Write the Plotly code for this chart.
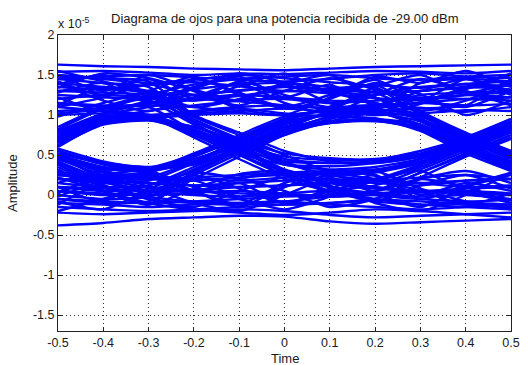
import plotly.graph_objects as go

# Sample instants of each eye trace (two symbol periods shown)
time = [-0.5, -0.4, -0.3, -0.2, -0.1, 0.0, 0.1, 0.2, 0.3, 0.4, 0.5]

# Amplitude of each trace in units of 1e-5
traces = [
    # 1 1 1 1
    [1.45, 1.48, 1.50, 1.47, 1.44, 1.42, 1.45, 1.50, 1.52, 1.48, 1.46],
    [1.20, 1.25, 1.22, 1.18, 1.24, 1.30, 1.27, 1.21, 1.19, 1.25, 1.28],
    [1.05, 1.08, 1.12, 1.10, 1.03, 1.00, 1.06, 1.12, 1.09, 1.04, 1.10],
    [1.35, 1.32, 1.38, 1.41, 1.36, 1.30, 1.33, 1.37, 1.34, 1.39, 1.42],
    [1.63, 1.61, 1.60, 1.58, 1.57, 1.56, 1.58, 1.60, 1.61, 1.62, 1.63],
    [1.54, 1.55, 1.53, 1.50, 1.52, 1.51, 1.53, 1.55, 1.54, 1.52, 1.55],
    [1.28, 1.40, 1.15, 1.33, 1.48, 1.22, 1.38, 1.12, 1.30, 1.45, 1.25],
    [1.50, 1.30, 1.45, 1.20, 1.36, 1.52, 1.28, 1.44, 1.18, 1.35, 1.50],
    [1.10, 1.22, 1.38, 1.25, 1.12, 1.30, 1.46, 1.32, 1.20, 1.10, 1.30],
    [1.40, 1.18, 1.05, 1.22, 1.40, 1.15, 1.02, 1.25, 1.45, 1.30, 1.12],
    [0.98, 1.15, 1.30, 1.48, 1.25, 1.08, 1.20, 1.40, 1.26, 1.00, 1.18],
    [1.55, 1.42, 1.28, 1.10, 1.20, 1.38, 1.50, 1.22, 1.05, 1.18, 1.40],
    [1.22, 1.05, 1.18, 1.35, 1.52, 1.40, 1.15, 1.00, 1.14, 1.32, 1.52],
    [1.34, 1.52, 1.46, 1.30, 1.08, 1.00, 1.22, 1.48, 1.40, 1.55, 1.35],
    # 1 1 1 0
    [1.30, 1.34, 1.28, 1.25, 1.31, 1.36, 1.30, 1.22, 0.92, 0.65, 0.42],
    [1.15, 1.10, 1.14, 1.20, 1.17, 1.12, 1.08, 1.05, 0.85, 0.58, 0.35],
    [1.48, 1.45, 1.40, 1.44, 1.50, 1.46, 1.41, 1.35, 1.00, 0.72, 0.50],
    [1.02, 1.06, 1.00, 1.04, 1.08, 1.02, 0.98, 0.96, 0.80, 0.52, 0.30],
    [1.42, 1.25, 1.50, 1.32, 1.18, 1.40, 1.28, 1.15, 0.95, 0.70, 0.48],
    [1.12, 1.35, 1.20, 1.45, 1.28, 1.10, 1.25, 1.38, 1.05, 0.78, 0.55],
    # 1 1 0 1
    [1.25, 1.22, 1.18, 0.88, 0.62, 0.38, 0.32, 0.35, 0.45, 0.62, 0.85],
    [1.40, 1.35, 1.30, 0.95, 0.70, 0.45, 0.40, 0.42, 0.50, 0.68, 0.92],
    [1.10, 1.05, 1.00, 0.75, 0.50, 0.30, 0.25, 0.28, 0.40, 0.58, 0.80],
    [1.50, 1.46, 1.42, 1.00, 0.78, 0.55, 0.42, 0.40, 0.48, 0.70, 0.95],
    # 1 1 0 0
    [1.30, 1.28, 1.24, 0.90, 0.60, 0.32, 0.18, 0.10, 0.05, 0.02, 0.00],
    [1.15, 1.12, 1.10, 0.80, 0.52, 0.25, 0.10, 0.00, -0.05, -0.08, -0.06],
    [1.45, 1.40, 1.35, 0.98, 0.75, 0.50, 0.30, 0.20, 0.15, 0.10, 0.12],
    [1.00, 1.02, 0.98, 0.72, 0.45, 0.20, 0.05, -0.05, -0.12, -0.15, -0.18],
    [1.38, 1.50, 1.26, 0.92, 0.68, 0.42, 0.22, 0.05, 0.20, 0.10, -0.10],
    # 1 0 1 1
    [0.55, 0.40, 0.31, 0.45, 0.65, 0.88, 1.02, 1.10, 1.15, 1.12, 1.14],
    [0.50, 0.35, 0.30, 0.40, 0.58, 0.80, 0.98, 1.08, 1.20, 1.25, 1.22],
    [0.45, 0.32, 0.34, 0.50, 0.72, 0.95, 1.10, 1.25, 1.30, 1.35, 1.32],
    [0.58, 0.42, 0.33, 0.38, 0.55, 0.75, 0.92, 1.05, 1.40, 1.45, 1.42],
    # 1 0 1 0
    [0.55, 0.38, 0.30, 0.42, 0.62, 0.85, 0.92, 0.95, 0.88, 0.62, 0.40],
    [0.48, 0.34, 0.32, 0.48, 0.70, 0.92, 1.00, 1.02, 0.92, 0.68, 0.45],
    [0.52, 0.40, 0.35, 0.40, 0.58, 0.80, 0.90, 0.93, 0.82, 0.55, 0.35],
    [0.45, 0.33, 0.31, 0.52, 0.75, 0.98, 1.05, 1.08, 0.98, 0.75, 0.52],
    # 1 0 0 1
    [0.45, 0.25, 0.15, 0.12, 0.10, 0.12, 0.15, 0.20, 0.38, 0.60, 0.82],
    [0.40, 0.18, 0.05, 0.00, -0.02, 0.02, 0.06, 0.12, 0.32, 0.55, 0.78],
    [0.50, 0.30, 0.22, 0.20, 0.18, 0.22, 0.28, 0.30, 0.45, 0.65, 0.90],
    [0.35, 0.10, -0.05, -0.10, -0.12, -0.08, -0.02, 0.05, 0.28, 0.50, 0.72],
    [0.42, 0.15, 0.25, 0.05, 0.20, 0.28, 0.02, 0.18, 0.35, 0.58, 0.80],
    # 1 0 0 0
    [0.42, 0.20, 0.10, 0.05, 0.02, 0.00, -0.02, 0.02, 0.05, 0.03, 0.00],
    [0.38, 0.12, -0.02, -0.08, -0.10, -0.12, -0.10, -0.06, -0.08, -0.12, -0.15],
    [0.48, 0.28, 0.20, 0.18, 0.22, 0.25, 0.20, 0.18, 0.22, 0.25, 0.20],
    [0.32, 0.05, -0.10, -0.18, -0.22, -0.25, -0.22, -0.18, -0.20, -0.24, -0.28],
    [0.50, 0.22, 0.28, 0.02, 0.15, -0.10, 0.08, 0.25, -0.05, 0.12, 0.28],
    # 0 1 1 1
    [0.72, 0.95, 1.05, 1.12, 1.18, 1.20, 1.15, 1.18, 1.22, 1.20, 1.18],
    [0.80, 1.02, 1.15, 1.25, 1.30, 1.35, 1.32, 1.28, 1.30, 1.34, 1.38],
    [0.65, 0.92, 1.00, 1.02, 1.05, 1.08, 1.04, 1.00, 1.02, 1.06, 1.05],
    [0.85, 1.10, 1.25, 1.38, 1.45, 1.48, 1.50, 1.46, 1.44, 1.48, 1.50],
    [0.75, 1.00, 1.30, 1.18, 1.42, 1.25, 1.10, 1.35, 1.50, 1.28, 1.40],
    # 0 1 1 0
    [0.70, 0.93, 0.98, 1.05, 1.10, 1.12, 1.08, 1.04, 0.88, 0.60, 0.38],
    [0.78, 1.00, 1.10, 1.20, 1.25, 1.22, 1.18, 1.15, 0.95, 0.68, 0.45],
    [0.62, 0.90, 0.96, 1.00, 1.02, 1.00, 0.98, 0.95, 0.82, 0.55, 0.32],
    [0.82, 1.08, 1.22, 1.32, 1.38, 1.40, 1.35, 1.28, 1.02, 0.75, 0.52],
    # 0 1 0 1
    [0.68, 0.92, 0.94, 0.78, 0.58, 0.42, 0.40, 0.42, 0.50, 0.65, 0.85],
    [0.62, 0.88, 0.93, 0.82, 0.62, 0.48, 0.44, 0.45, 0.52, 0.70, 0.90],
    [0.75, 0.96, 0.98, 0.75, 0.52, 0.38, 0.36, 0.40, 0.48, 0.62, 0.82],
    [0.70, 0.94, 0.95, 0.85, 0.68, 0.52, 0.46, 0.44, 0.55, 0.72, 0.95],
    # 0 1 0 0
    [0.66, 0.92, 0.95, 0.80, 0.55, 0.30, 0.15, 0.08, 0.05, 0.08, 0.10],
    [0.72, 0.95, 0.97, 0.78, 0.50, 0.25, 0.10, 0.02, -0.02, 0.00, -0.05],
    [0.60, 0.90, 0.94, 0.85, 0.65, 0.40, 0.25, 0.18, 0.15, 0.18, 0.20],
    [0.78, 0.98, 1.00, 0.82, 0.58, 0.28, 0.05, -0.08, -0.12, -0.10, -0.12],
    # 0 0 1 1
    [0.15, 0.10, 0.12, 0.35, 0.60, 0.85, 1.02, 1.10, 1.15, 1.20, 1.22],
    [0.05, 0.00, 0.02, 0.28, 0.55, 0.80, 0.98, 1.12, 1.25, 1.28, 1.30],
    [0.25, 0.20, 0.22, 0.42, 0.68, 0.92, 1.10, 1.25, 1.35, 1.38, 1.36],
    [-0.05, -0.10, -0.08, 0.20, 0.48, 0.75, 0.95, 1.05, 1.08, 1.12, 1.45],
    [0.22, 0.05, -0.12, 0.30, 0.55, 0.82, 1.05, 1.30, 1.18, 1.45, 1.28],
    # 0 0 1 0
    [0.10, 0.05, 0.08, 0.32, 0.58, 0.82, 0.92, 0.92, 0.85, 0.60, 0.38],
    [0.20, 0.15, 0.18, 0.40, 0.65, 0.90, 1.02, 1.05, 0.95, 0.70, 0.48],
    [0.00, -0.05, -0.02, 0.25, 0.52, 0.78, 0.90, 0.94, 0.84, 0.58, 0.35],
    [0.28, 0.25, 0.28, 0.48, 0.72, 0.95, 1.08, 1.12, 1.00, 0.75, 0.55],
    # 0 0 0 1
    [0.10, 0.08, 0.05, 0.06, 0.10, 0.12, 0.15, 0.18, 0.35, 0.58, 0.80],
    [-0.05, -0.08, -0.10, -0.08, -0.05, -0.02, 0.00, 0.05, 0.28, 0.52, 0.75],
    [0.25, 0.22, 0.20, 0.22, 0.25, 0.28, 0.30, 0.32, 0.42, 0.62, 0.85],
    [-0.15, -0.18, -0.20, -0.18, -0.15, -0.12, -0.10, -0.05, 0.22, 0.48, 0.70],
    [-0.02, 0.18, 0.25, 0.05, -0.15, 0.10, 0.25, 0.30, 0.40, 0.62, 0.88],
    # 0 0 0 0
    [0.05, 0.02, 0.00, 0.03, 0.05, 0.02, -0.02, 0.00, 0.03, 0.05, 0.02],
    [0.20, 0.18, 0.15, 0.12, 0.15, 0.18, 0.20, 0.15, 0.12, 0.18, 0.20],
    [-0.10, -0.12, -0.15, -0.12, -0.10, -0.08, -0.12, -0.15, -0.18, -0.15, -0.12],
    [-0.38, -0.35, -0.30, -0.28, -0.26, -0.27, -0.33, -0.36, -0.34, -0.32, -0.30],
    [-0.22, -0.24, -0.22, -0.20, -0.18, -0.20, -0.25, -0.28, -0.26, -0.24, -0.22],
    [0.10, -0.08, 0.22, 0.05, -0.12, 0.15, 0.28, 0.02, -0.15, 0.10, 0.25],
    [-0.12, 0.15, 0.02, 0.25, 0.08, -0.10, 0.05, 0.20, 0.30, 0.05, -0.10],
    [0.28, 0.12, -0.05, -0.15, 0.05, 0.22, 0.10, -0.08, 0.12, 0.25, 0.08],
    [0.02, 0.25, 0.30, 0.10, -0.05, -0.18, -0.02, 0.18, 0.05, -0.12, 0.02],
    [-0.20, -0.05, 0.12, 0.28, 0.20, 0.05, -0.15, -0.05, 0.20, 0.30, 0.15],
    [0.15, 0.30, 0.10, -0.10, -0.20, 0.00, 0.22, 0.30, 0.08, -0.08, -0.18],
    [0.30, 0.05, -0.12, 0.08, 0.26, 0.30, 0.12, -0.10, -0.20, 0.00, 0.28],
    [-0.08, -0.18, 0.05, 0.18, -0.02, 0.10, 0.30, 0.24, 0.00, 0.15, 0.05],
]

x_ticks = [-0.5, -0.4, -0.3, -0.2, -0.1, 0.0, 0.1, 0.2, 0.3, 0.4, 0.5]
x_labels = ["-0.5", "-0.4", "-0.3", "-0.2", "-0.1", "0", "0.1", "0.2", "0.3", "0.4", "0.5"]
y_ticks = [-1.5, -1.0, -0.5, 0.0, 0.5, 1.0, 1.5, 2.0]
y_labels = ["-1.5", "-1", "-0.5", "0", "0.5", "1", "1.5", "2"]

title_text = "Diagrama de ojos para una potencia recibida de -29.00 dBm"

xs, ys = [], []
for tr in traces:
    xs += time + [None]
    ys += tr + [None]

fig = go.Figure()
fig.add_trace(go.Scatter(
    x=xs, y=ys, mode="lines",
    line=dict(color="#0000ff", width=2.4, shape="spline", smoothing=0.6),
    connectgaps=False, hoverinfo="skip", showlegend=False,
))

FONT = "Liberation Sans, Arial, Helvetica, sans-serif"
TXT = "#1a1a1a"
axis_common = dict(
    showline=True, linecolor="#222222", linewidth=1, mirror="ticks",
    ticks="inside", ticklen=4, tickcolor="#222222",
    showgrid=True, gridcolor="#333333", gridwidth=1, griddash="1px,3px",
    zeroline=False, tickfont=dict(family=FONT, size=12.5, color=TXT),
    ticklabeloverflow="allow",
)
fig.update_xaxes(range=[-0.5, 0.5], tickvals=x_ticks, ticktext=x_labels, **axis_common)
fig.update_yaxes(range=[-1.7, 2.0], tickvals=y_ticks, ticktext=y_labels, **axis_common)

fig.update_layout(
    width=528, height=365,
    margin=dict(l=58, r=8, t=35, b=34),
    paper_bgcolor="white", plot_bgcolor="white",
    font=dict(family=FONT, size=12.5, color=TXT),
    annotations=[
        dict(text=title_text, xref="paper", yref="paper", x=0.5, y=1, yshift=17,
             xanchor="center", yanchor="middle", showarrow=False,
             font=dict(family=FONT, size=13, color=TXT)),
        dict(text="x 10<sup>-5</sup>", xref="paper", yref="paper", x=0, xshift=-2, y=1, yshift=12,
             xanchor="left", yanchor="middle", showarrow=False,
             font=dict(family=FONT, size=12.5, color=TXT)),
        dict(text="Time", xref="paper", yref="paper", x=0.5, y=0, yshift=-27,
             xanchor="center", yanchor="middle", showarrow=False,
             font=dict(family=FONT, size=13, color=TXT)),
        dict(text="Amplitude", xref="paper", yref="paper", x=0, xshift=-46, y=0.5,
             xanchor="center", yanchor="middle", textangle=-90, showarrow=False,
             font=dict(family=FONT, size=13, color=TXT)),
    ],
)

fig.write_html("out.html")
